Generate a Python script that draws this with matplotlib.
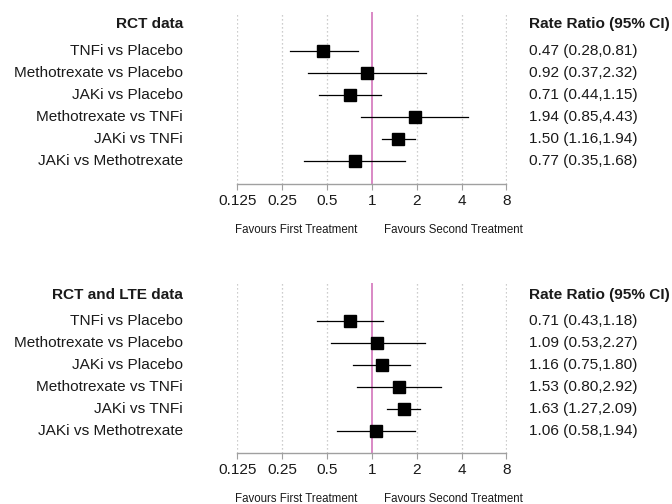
import numpy as np
import matplotlib
matplotlib.use("Agg")
import matplotlib.pyplot as plt
from matplotlib.transforms import blended_transform_factory

plt.rcParams['font.family'] = ['Liberation Sans', 'DejaVu Sans']

comparisons = ["TNFi vs Placebo", "Methotrexate vs Placebo", "JAKi vs Placebo",
               "Methotrexate vs TNFi", "JAKi vs TNFi", "JAKi vs Methotrexate"]

rct_est = [0.47, 0.92, 0.71, 1.94, 1.50, 0.77]
rct_lo = [0.28, 0.37, 0.44, 0.85, 1.16, 0.35]
rct_hi = [0.81, 2.32, 1.15, 4.43, 1.94, 1.68]

lte_est = [0.71, 1.09, 1.16, 1.53, 1.63, 1.06]
lte_lo = [0.43, 0.53, 0.75, 0.80, 1.27, 0.58]
lte_hi = [1.18, 2.27, 1.80, 2.92, 2.09, 1.94]

ticks = [0.125, 0.25, 0.5, 1, 2, 4, 8]
tick_labels = ["0.125", "0.25", "0.5", "1", "2", "4", "8"]

panels = [("RCT data", rct_est, rct_lo, rct_hi),
          ("RCT and LTE data", lte_est, lte_lo, lte_hi)]

W, H = 672, 504
fig = plt.figure(figsize=(W / 100, H / 100), dpi=100)

x0_px, x1_px = 237.3, 506.5
panel_px = [(12, 184, 51), (283, 453, 321)]  # top, axis, first row
row_step = 22.0
txt = "#1a1a1a"
fs = 11.1

for (title, est, lo, hi), (top, bot, first) in zip(panels, panel_px):
    ax = fig.add_axes([x0_px / W, 1 - bot / H, (x1_px - x0_px) / W, (bot - top) / H])
    ax.set_xscale('log', base=2)
    ax.set_xlim(0.125, 8)
    ax.set_ylim((bot - first) / row_step, (top - first) / row_step)
    for s in ['top', 'right', 'left']:
        ax.spines[s].set_visible(False)
    ax.spines['bottom'].set_color('#a0a0a0')
    ax.spines['bottom'].set_linewidth(1.0)
    ax.set_xticks(ticks)
    ax.set_xticklabels(tick_labels, fontsize=fs, color=txt)
    ax.xaxis.set_minor_locator(matplotlib.ticker.NullLocator())
    ax.tick_params(axis='x', direction='out', length=4, color='#a0a0a0', pad=3)
    ax.set_yticks([])
    for t in ticks:
        if t != 1:
            ax.axvline(t, color='#bdbdbd', lw=0.9, ls=(0, (1, 2.2)), zorder=0)
    ax.axvline(1, color='#d77fc0', lw=1.3, zorder=1)
    y = np.arange(len(comparisons))
    for i in range(len(comparisons)):
        ax.plot([lo[i], hi[i]], [y[i], y[i]], color='black', lw=0.9, zorder=2)
    ax.plot(est, y, 's', color='black', markersize=8.3, zorder=3)

    trans = blended_transform_factory(fig.transFigure, ax.transData)
    lx = 183 / W
    rx = 529 / W
    hy = (top + 12 - first) / row_step
    ax.text(lx, hy, title, transform=trans, ha='right', va='center', fontsize=fs,
            fontweight='bold', color=txt, clip_on=False)
    ax.text(rx, hy, "Rate Ratio (95% CI)", transform=trans,
            ha='left', va='center', fontsize=fs, fontweight='bold', color=txt, clip_on=False)
    for i, name in enumerate(comparisons):
        ax.text(lx, i, name, transform=trans, ha='right', va='center', fontsize=fs,
                color=txt, clip_on=False)
        ax.text(rx, i, f"{est[i]:.2f} ({lo[i]:.2f},{hi[i]:.2f})", transform=trans,
                ha='left', va='center', fontsize=fs, color=txt, clip_on=False)
    fy = (bot + 46 - first) / row_step
    ax.text(296 / W, fy, "Favours First Treatment", transform=trans, ha='center',
            va='center', fontsize=8.3, color=txt, clip_on=False)
    ax.text(453 / W, fy, "Favours Second Treatment", transform=trans, ha='center',
            va='center', fontsize=8.3, color=txt, clip_on=False)

fig.savefig("out.png", dpi=100, facecolor='white')
